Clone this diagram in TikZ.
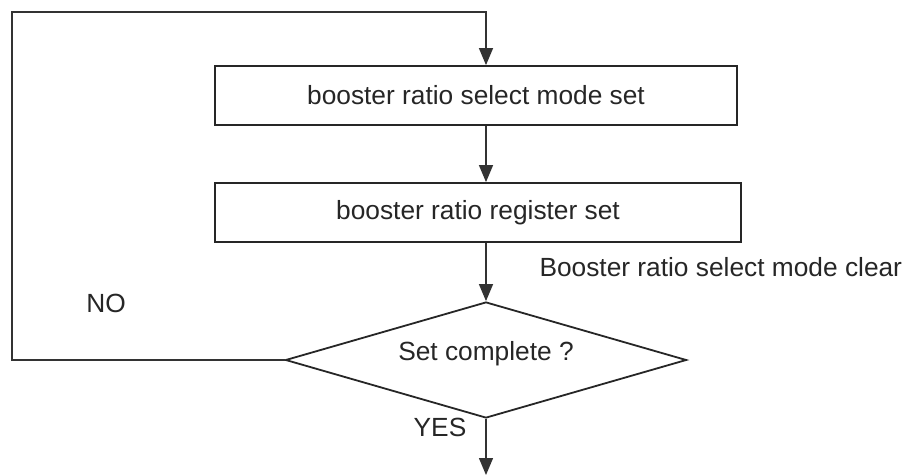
\documentclass[tikz,border=0pt]{standalone}
\usepackage{fontspec}
\setmainfont{Liberation Sans}
\usetikzlibrary{shapes.geometric,arrows.meta}
\begin{document}
\begin{tikzpicture}[x=1pt,y=-1pt,
  every node/.style={font=\fontsize{26.3}{31}\selectfont, text=black!85},
  stepbox/.style={draw=black!85, line width=1.8pt, rectangle, minimum height=59pt, inner sep=0pt},
  decision/.style={draw=black!85, line width=1.8pt, diamond, minimum width=401pt, minimum height=116pt, inner sep=0pt},
  conn/.style={draw=black!80, line width=1.3pt},
  arr/.style={conn, -{Triangle[width=14pt,length=17pt]}}]
\useasboundingbox (0,0) rectangle (908,475);
\node[stepbox, minimum width=522pt] (box1) at (476,95.5) {booster ratio select mode set};
\node[stepbox, minimum width=526pt] (box2) at (478,212.5) {booster ratio register set};
\node[decision] (dia) at (486,360) {};
\node (diatext) at (486,354) {Set complete ?};
\coordinate (lt) at (12,12);
\coordinate (endp) at (486,475);
\node[anchor=west] (clr) at (536,267) {Booster ratio select mode clear};
\node (no) at (106,303) {NO};
\node (yes) at (440,427) {YES};
\draw[arr] (dia.west) -| (lt) -| (box1.north -| dia.north);
\draw[arr] (box1.south -| dia.north) -- (box2.north -| dia.north);
\draw[arr] (box2.south -| dia.north) -- (dia.north);
\draw[arr] (dia.south) -- (endp);
\end{tikzpicture}
\end{document}
